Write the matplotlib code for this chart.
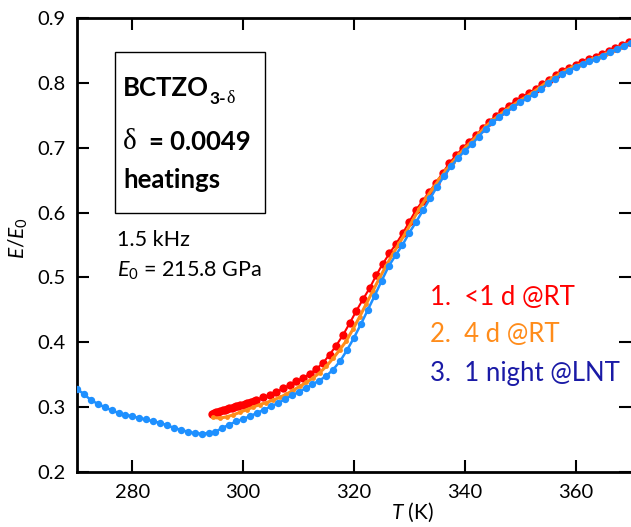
import matplotlib
matplotlib.use('Agg')
import matplotlib.pyplot as plt
from matplotlib.patches import Rectangle

plt.rcParams['font.family'] = ['Lato', 'DejaVu Sans']
plt.rcParams['mathtext.fontset'] = 'custom'
plt.rcParams['mathtext.rm'] = 'Lato'
plt.rcParams['mathtext.it'] = 'Lato:italic'
plt.rcParams['mathtext.bf'] = 'Lato:bold'

# 3. 1 night @LNT (blue, full range)
T_blue = [270.0, 271.25, 272.5, 273.75, 275.0, 276.25, 277.5, 278.75, 280.0, 281.25,
          282.5, 283.75, 285.0, 286.25, 287.5, 288.75, 290.0, 291.25, 292.5, 293.75,
          295.0, 296.25, 297.5, 298.75, 300.0, 301.25, 302.5, 303.75, 305.0, 306.25,
          307.5, 308.75, 310.0, 311.25, 312.5, 313.75, 315.0, 316.25, 317.5, 318.75,
          320.0, 321.25, 322.5, 323.75, 325.0, 326.25, 327.5, 328.75, 330.0, 331.25,
          332.5, 333.75, 335.0, 336.25, 337.5, 338.75, 340.0, 341.25, 342.5, 343.75,
          345.0, 346.25, 347.5, 348.75, 350.0, 351.25, 352.5, 353.75, 355.0, 356.25,
          357.5, 358.75, 360.0, 361.25, 362.5, 363.75, 365.0, 366.25, 367.5, 368.75, 370.0]
E_blue = [0.328, 0.320, 0.311, 0.305, 0.300, 0.295, 0.291, 0.288, 0.286, 0.283,
          0.281, 0.278, 0.276, 0.272, 0.268, 0.265, 0.262, 0.260, 0.259, 0.260,
          0.262, 0.268, 0.273, 0.278, 0.282, 0.286, 0.291, 0.296, 0.301, 0.306,
          0.312, 0.318, 0.323, 0.329, 0.335, 0.341, 0.348, 0.358, 0.371, 0.388,
          0.407, 0.428, 0.450, 0.472, 0.495, 0.517, 0.534, 0.550, 0.569, 0.586,
          0.604, 0.622, 0.640, 0.656, 0.671, 0.684, 0.695, 0.705, 0.717, 0.729,
          0.739, 0.747, 0.755, 0.763, 0.770, 0.776, 0.783, 0.791, 0.799, 0.806,
          0.813, 0.819, 0.824, 0.829, 0.833, 0.837, 0.842, 0.847, 0.852, 0.857, 0.862]

# 1. <1 d @RT (red)
T_red = [294.3, 294.7, 295.1, 295.5, 295.9, 296.3, 296.7, 297.1, 297.5, 297.9,
         298.3, 298.7, 299.1, 299.5, 299.9, 300.3, 300.7, 301.1, 301.5, 301.9, 302.3,
         303.6, 304.8, 306.0, 307.2, 308.4, 309.6, 310.8, 312.0, 313.2, 314.4,
         315.6, 316.8, 318.0, 319.2, 320.4, 321.6, 322.8, 324.0, 325.2, 326.4,
         327.6, 328.8, 330.0, 331.2, 332.4, 333.6, 334.8, 336.0, 337.2, 338.4,
         339.6, 340.8, 342.0, 343.2, 344.4, 345.6, 346.8, 348.0, 349.2, 350.4,
         351.6, 352.8, 354.0, 355.2, 356.4, 357.6, 358.8, 360.0, 361.2, 362.4,
         363.6, 364.8, 366.0, 367.2, 368.4, 369.6]
E_red = [0.289, 0.291, 0.292, 0.293, 0.294, 0.295, 0.296, 0.297, 0.298, 0.299,
         0.300, 0.301, 0.302, 0.303, 0.304, 0.305, 0.306, 0.307, 0.308, 0.309, 0.311,
         0.315, 0.318, 0.323, 0.329, 0.334, 0.340, 0.345, 0.351, 0.359, 0.368,
         0.381, 0.395, 0.411, 0.429, 0.448, 0.466, 0.483, 0.503, 0.521, 0.537,
         0.552, 0.568, 0.586, 0.604, 0.618, 0.632, 0.646, 0.661, 0.676, 0.688,
         0.699, 0.709, 0.719, 0.730, 0.740, 0.749, 0.757, 0.765, 0.772, 0.778,
         0.784, 0.791, 0.798, 0.805, 0.812, 0.818, 0.823, 0.828, 0.832, 0.836,
         0.840, 0.844, 0.849, 0.853, 0.858, 0.863]

# 2. 4 d @RT (orange)
T_orange = [294.6, 295.8, 297.0, 298.2, 299.4, 300.6, 301.8, 303.0, 304.2, 305.4,
            306.6, 307.8, 309.0, 310.2, 311.4, 312.6, 313.8, 315.0, 316.2, 317.4,
            318.6, 319.8, 321.0, 322.2, 323.4, 324.6, 325.8, 327.0, 328.2, 329.4,
            330.6, 331.8, 333.0, 334.2, 335.4, 336.6, 337.8, 339.0, 340.2, 341.4,
            342.6, 343.8, 345.0, 346.2, 347.4, 348.6, 349.8, 351.0, 352.2, 353.4,
            354.6, 355.8, 357.0, 358.2, 359.4, 360.6, 361.8, 363.0, 364.2, 365.4,
            366.6, 367.8, 369.0, 370.0]
E_orange = [0.284, 0.283, 0.285, 0.288, 0.292, 0.296, 0.300, 0.304, 0.307, 0.311,
            0.315, 0.320, 0.326, 0.332, 0.338, 0.345, 0.353, 0.363, 0.375, 0.388,
            0.402, 0.420, 0.439, 0.459, 0.479, 0.499, 0.518, 0.536, 0.553, 0.570,
            0.588, 0.606, 0.622, 0.637, 0.651, 0.665, 0.678, 0.690, 0.701, 0.711,
            0.722, 0.733, 0.742, 0.750, 0.758, 0.765, 0.772, 0.778, 0.785, 0.792,
            0.800, 0.807, 0.813, 0.819, 0.824, 0.828, 0.832, 0.836, 0.840, 0.845,
            0.849, 0.854, 0.859, 0.862]

legend_labels = ['1.  <1 d @RT', '2.  4 d @RT', '3.  1 night @LNT']
legend_colors = ['#ff0000', '#ff8c1a', '#1a1aa6']

fig = plt.figure(figsize=(6.31, 5.27), dpi=100)
ax = fig.add_axes([0.122, 0.1044, 0.878, 0.8615])

ax.plot(T_red, E_red, '-o', color='#ff0000', lw=1.5, ms=6, mew=0, zorder=3)
ax.plot(T_orange, E_orange, '-o', color='#ff8c1a', lw=2.2, ms=3.5, mew=0, zorder=4)
ax.plot(T_blue, E_blue, '-o', color='#1e90ff', lw=1.8, ms=5.3, mew=0, zorder=5)

ax.set_xlim(270, 370)
ax.set_ylim(0.2, 0.9)
ax.set_xticks([280, 300, 320, 340, 360])
ax.set_yticks([0.2, 0.3, 0.4, 0.5, 0.6, 0.7, 0.8, 0.9])
ax.tick_params(direction='in', top=True, right=True, length=8.5, width=1.5,
               labelsize=14.5, colors='black')
ax.tick_params(axis='x', pad=9)
ax.tick_params(axis='y', pad=8)
for s in ['left', 'bottom', 'top']:
    ax.spines[s].set_linewidth(2)
ax.spines['right'].set_visible(False)

ax.text(0.605, -0.088, r'$T$ (K)', transform=ax.transAxes, ha='center', va='center', fontsize=15)
ax.text(-0.106, 0.515, r'$E/E_0$', transform=ax.transAxes, ha='center', va='center',
        rotation=90, fontsize=15)

# info box
ax.add_patch(Rectangle((0.0686, 0.570), 0.271, 0.355, transform=ax.transAxes,
                       fill=False, lw=1, ec='black', zorder=6))
t1 = ax.text(0.083, 0.845, 'BCTZO', transform=ax.transAxes, fontsize=18.5,
             fontweight='bold', va='center')
t1s = ax.annotate('3-', xy=(1, 0), xycoords=t1, xytext=(0.5, 1), textcoords='offset points',
                  fontsize=12.5, fontweight='bold', va='center')
ax.annotate('δ', xy=(1, 0), xycoords=t1s, xytext=(0, 0), textcoords='offset points',
            fontsize=13, family='Liberation Serif', va='bottom')
d = ax.text(0.083, 0.726, 'δ', transform=ax.transAxes, fontsize=21,
            family='Liberation Serif', va='center')
ax.annotate('= 0.0049', xy=(1, 0), xycoords=d, xytext=(9, 1), textcoords='offset points',
            fontsize=18.5, fontweight='bold', va='bottom')
ax.text(0.083, 0.643, 'heatings', transform=ax.transAxes, fontsize=18.5,
        fontweight='bold', va='center')

ax.text(0.072, 0.510, '1.5 kHz', transform=ax.transAxes, fontsize=15.5, va='center')
ax.text(0.072, 0.443, r'$E_0$ = 215.8 GPa', transform=ax.transAxes, fontsize=15.5, va='center')

leg_y = [0.385, 0.302, 0.218]
for lab, c, y in zip(legend_labels, legend_colors, leg_y):
    ax.text(0.637, y, lab, transform=ax.transAxes, fontsize=18.5, color=c, va='center')

fig.savefig('out.png', dpi=100)
